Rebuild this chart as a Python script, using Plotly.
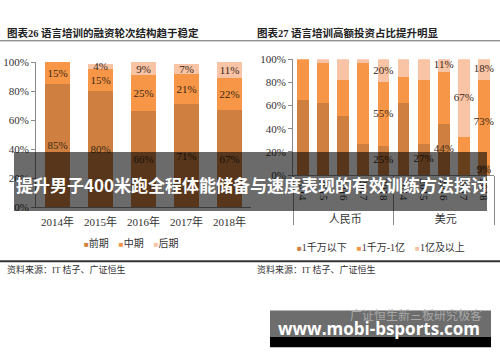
import plotly.graph_objects as go

# ---------------- data ----------------
# Chart 26: financing round structure
years = ["2014年", "2015年", "2016年", "2017年", "2018年"]
stage_names = ["前期", "中期", "后期"]
early = [85, 80, 66, 71, 67]
mid = [15, 15, 25, 21, 22]
late = [0, 4, 9, 7, 11]

# Chart 27: share of investment size
currency = ["人民币"] * 5 + ["美元"] * 5
years2 = ["2014", "2015", "2016", "2017", "2018"] * 2
size_names = ["1千万以下", "1千万-1亿", "1亿及以上"]
small = [65, 62, 51, 27, 25, 62, 27, 44, 0, 9]
medium = [35, 35, 31, 70, 55, 23, 55, 45, 33, 73]
large = [0, 3, 18, 3, 20, 15, 18, 11, 67, 18]
# which bars carry a value label in the original
small_labeled = [0, 0, 0, 0, 1, 0, 1, 1, 0, 1]
medium_labeled = [0, 0, 0, 0, 1, 0, 0, 0, 0, 1]
large_labeled = [0, 0, 0, 0, 1, 0, 0, 1, 1, 1]

title_left = "图表26 语言培训的融资轮次结构趋于稳定"
title_right = "图表27 语言培训高额投资占比提升明显"
source_text = "资料来源：IT 桔子、广证恒生"
banner_text = "提升男子400米跑全程体能储备与速度表现的有效训练方法探讨"
wm_text = "广证恒生新三板研究极客"
site_text = "www.mobi-bsports.com"

colors = ["#cf8040", "#f79646", "#f9c3a6"]

# ---------------- helpers ----------------
W, H = 500, 362
SERIF = "Liberation Serif, Noto Sans CJK SC, serif"
CJK = "Noto Sans CJK SC, sans-serif"


def px_x(x):
    return x / W


def px_y(y):
    return (H - y) / H


def pct_text(vals, flags=None):
    out = []
    for i, v in enumerate(vals):
        show = v > 0 and (flags is None or flags[i])
        out.append(f"{v}%" if show else "")
    return out


fig = go.Figure()

label_font = dict(family=SERIF, size=11, color="#3a2816")

# left chart: stacked bars with inside labels
for name, vals, col in zip(stage_names, [early, mid, late], colors):
    fig.add_trace(go.Bar(
        x=years, y=vals, name=name, marker_color=col, marker_line_width=0,
        width=0.56, text=pct_text(vals), textposition="inside",
        insidetextanchor="middle", textangle=0, constraintext="none", cliponaxis=False,
        textfont=label_font, showlegend=False, hoverinfo="skip",
        xaxis="x", yaxis="y"))

# right chart: stacked bars
right_series = [small, medium, large]
right_flags = [small_labeled, medium_labeled, large_labeled]
for name, vals, col in zip(size_names, right_series, colors):
    fig.add_trace(go.Bar(
        x=[currency, years2], y=vals, name=name, marker_color=col, marker_line_width=0,
        width=0.59, showlegend=False, hoverinfo="skip",
        xaxis="x2", yaxis="y2"))

# right chart labels at the middle of each stacked segment
base = [0] * len(small)
for vals, flags in zip(right_series, right_flags):
    mids = [b + v / 2 for b, v in zip(base, vals)]
    fig.add_trace(go.Scatter(
        x=[currency, years2], y=mids, mode="text", text=pct_text(vals, flags),
        textposition="middle center", textfont=label_font, cliponaxis=False,
        showlegend=False, hoverinfo="skip", xaxis="x2", yaxis="y2"))
    base = [b + v for b, v in zip(base, vals)]

axis_common = dict(showline=True, linecolor="#8a8a8a", linewidth=1, showgrid=False,
                   zeroline=False, tickfont=dict(family=SERIF, size=11, color="#333"))

fig.update_layout(
    width=W, height=H, margin=dict(l=0, r=0, t=0, b=0),
    paper_bgcolor="white", plot_bgcolor="white",
    barmode="stack",
    xaxis=dict(domain=[px_x(36), px_x(251)], type="category", anchor="y",
               ticks="outside", ticklen=5, tickcolor="rgba(0,0,0,0)", **axis_common),
    yaxis=dict(domain=[px_y(208), px_y(58)], range=[0, 100], dtick=20, ticksuffix="%",
               ticks="outside", ticklen=4, tickcolor="#8a8a8a", anchor="x", **axis_common),
    xaxis2=dict(domain=[px_x(293), px_x(494)], type="multicategory", anchor="y2",
                ticks="outside", ticklen=9, tickcolor="rgba(0,0,0,0)",
                tickangle=90, showdividers=True, dividercolor="#8a8a8a", dividerwidth=1,
                **axis_common),
    yaxis2=dict(domain=[px_y(175), px_y(55)], range=[0, 100], dtick=20, ticksuffix="%",
                ticks="outside", ticklen=4, tickcolor="#8a8a8a", anchor="x2", **axis_common),
)

shapes = [
    dict(type="line", xref="paper", yref="paper", x0=0, x1=1, y0=px_y(36), y1=px_y(36),
         line=dict(color="#666", width=1)),
    dict(type="line", xref="paper", yref="paper", x0=0, x1=1, y0=px_y(264), y1=px_y(264),
         line=dict(color="#333", width=2)),
    dict(type="rect", xref="paper", yref="paper", x0=px_x(14), x1=px_x(487),
         y0=px_y(212), y1=px_y(151), fillcolor="rgba(0,0,0,0.58)", line_width=0,
         layer="above"),
    dict(type="rect", xref="paper", yref="paper", x0=px_x(270), x1=px_x(491),
         y0=px_y(342), y1=px_y(315), fillcolor="#6d6d6d", line_width=0, layer="above"),
    dict(type="rect", xref="paper", yref="paper", x0=px_x(270), x1=px_x(491),
         y0=px_y(353), y1=px_y(342), fillcolor="#000000", line_width=0, layer="above"),
]
fig.update_layout(shapes=shapes)


def legend_html(names, cols):
    parts = []
    for n, c in zip(names, cols):
        parts.append(f"<span style='color:{c};font-size:8px'>■</span>{n}")
    return "    ".join(parts)


ann = [
    dict(text=f"<b>{title_left}</b>", x=px_x(5), y=px_y(28), xanchor="left",
         font=dict(family=SERIF, size=10.5, color="#222")),
    dict(text=f"<b>{title_right}</b>", x=px_x(255), y=px_y(28), xanchor="left",
         font=dict(family=SERIF, size=10.5, color="#222")),
    dict(text=source_text, x=px_x(5), y=px_y(273), xanchor="left",
         font=dict(family=SERIF, size=9, color="#333")),
    dict(text=source_text, x=px_x(255), y=px_y(273), xanchor="left",
         font=dict(family=SERIF, size=9, color="#333")),
    dict(text=legend_html(stage_names, colors), x=px_x(131), y=px_y(245), xanchor="center",
         font=dict(family=SERIF, size=10, color="#333")),
    dict(text=legend_html(size_names, colors), x=px_x(381), y=px_y(249), xanchor="center",
         font=dict(family=SERIF, size=10, color="#333")),
    dict(text=f"<b>{banner_text}</b>", x=px_x(252), y=px_y(185), xanchor="center",
         font=dict(family=CJK, size=17, color="white")),
    dict(text=wm_text, x=px_x(416), y=px_y(319), xanchor="center",
         font=dict(family=CJK, size=12, color="#a8a8a8")),
    dict(text=f"<b>{site_text}</b>", x=px_x(379), y=px_y(334), xanchor="center",
         font=dict(family="Open Sans, sans-serif", size=17, color="white")),
]
for a in ann:
    a.update(xref="paper", yref="paper", yanchor="middle", showarrow=False)
fig.update_layout(annotations=ann)

# remove the browser's default page margin so the 500x362 figure fills the window
fig.write_html("out.html", config={"displayModeBar": False},
               post_script="document.body.style.margin='0';document.body.style.overflow='hidden';")
